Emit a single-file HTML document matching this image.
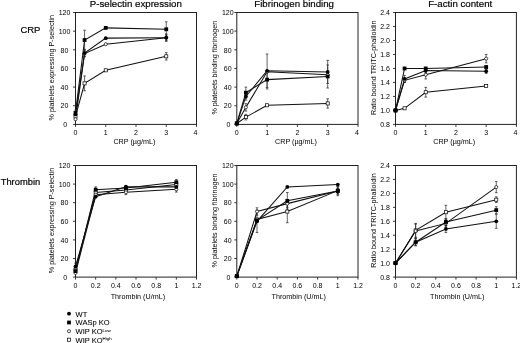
<!DOCTYPE html>
<html><head><meta charset="utf-8"><style>
html,body{margin:0;padding:0;background:#fff;}
svg{display:block;filter:grayscale(1);}
text{font-family:"Liberation Sans", sans-serif;fill:#000;} text.b{stroke:#000;stroke-width:0.18px;} text.m{stroke:#000;stroke-width:0.08px;}
</style></head><body>
<svg width="520" height="343" viewBox="0 0 520 343">
<rect width="520" height="343" fill="#fff"/>
<rect x="75.5" y="12.5" width="121.00" height="111.90" fill="none" stroke="#222" stroke-width="1"/>
<line x1="73.0" y1="124.40" x2="75.5" y2="124.40" stroke="#222" stroke-width="0.9"/>
<text x="65.20" y="127.10" font-size="7" text-anchor="middle" >0</text>
<line x1="73.0" y1="105.75" x2="75.5" y2="105.75" stroke="#222" stroke-width="0.9"/>
<text x="64.50" y="108.45" font-size="7" text-anchor="middle" >20</text>
<line x1="73.0" y1="87.10" x2="75.5" y2="87.10" stroke="#222" stroke-width="0.9"/>
<text x="64.50" y="89.80" font-size="7" text-anchor="middle" >40</text>
<line x1="73.0" y1="68.45" x2="75.5" y2="68.45" stroke="#222" stroke-width="0.9"/>
<text x="64.50" y="71.15" font-size="7" text-anchor="middle" >60</text>
<line x1="73.0" y1="49.80" x2="75.5" y2="49.80" stroke="#222" stroke-width="0.9"/>
<text x="64.50" y="52.50" font-size="7" text-anchor="middle" >80</text>
<line x1="73.0" y1="31.15" x2="75.5" y2="31.15" stroke="#222" stroke-width="0.9"/>
<text x="64.50" y="33.85" font-size="7" text-anchor="middle" >100</text>
<line x1="73.0" y1="12.50" x2="75.5" y2="12.50" stroke="#222" stroke-width="0.9"/>
<text x="64.50" y="15.20" font-size="7" text-anchor="middle" >120</text>
<line x1="75.50" y1="124.4" x2="75.50" y2="126.9" stroke="#222" stroke-width="0.9"/>
<text x="75.50" y="135.00" font-size="7" text-anchor="middle" >0</text>
<line x1="105.75" y1="124.4" x2="105.75" y2="126.9" stroke="#222" stroke-width="0.9"/>
<text x="105.75" y="135.00" font-size="7" text-anchor="middle" >1</text>
<line x1="136.00" y1="124.4" x2="136.00" y2="126.9" stroke="#222" stroke-width="0.9"/>
<text x="136.00" y="135.00" font-size="7" text-anchor="middle" >2</text>
<line x1="166.25" y1="124.4" x2="166.25" y2="126.9" stroke="#222" stroke-width="0.9"/>
<text x="166.25" y="135.00" font-size="7" text-anchor="middle" >3</text>
<line x1="196.50" y1="124.4" x2="196.50" y2="126.9" stroke="#222" stroke-width="0.9"/>
<text x="195.50" y="135.00" font-size="7" text-anchor="middle" >4</text>
<text x="54.1" y="67.65" font-size="7.2" text-anchor="middle" transform="rotate(-90 54.1 67.65)">% platelets expressing P-selectin</text>
<text x="134.40" y="144.10" font-size="7.2" text-anchor="middle" >CRP (µg/mL)</text>
<polyline points="75.50,116.47 84.58,83.37 105.75,70.31 166.25,56.33" fill="none" stroke="#111" stroke-width="1.05"/>
<polyline points="75.50,119.27 84.58,53.53 105.75,44.20 166.25,37.68" fill="none" stroke="#111" stroke-width="1.05"/>
<polyline points="75.50,114.42 84.58,53.06 105.75,38.14 166.25,37.68" fill="none" stroke="#111" stroke-width="1.05"/>
<polyline points="75.50,112.93 84.58,40.01 105.75,27.89 166.25,29.28" fill="none" stroke="#111" stroke-width="1.05"/>
<path d="M84.58 75.91V90.83M83.28 75.91H85.88M83.28 90.83H85.88" stroke="#222" stroke-width="0.7" fill="none"/>
<path d="M166.25 52.60V60.06M164.95 52.60H167.55M164.95 60.06H167.55" stroke="#222" stroke-width="0.7" fill="none"/>
<path d="M84.58 50.73V56.33M83.28 50.73H85.88M83.28 56.33H85.88" stroke="#222" stroke-width="0.7" fill="none"/>
<path d="M166.25 34.88V40.47M164.95 34.88H167.55M164.95 40.47H167.55" stroke="#222" stroke-width="0.7" fill="none"/>
<path d="M84.58 49.33V56.79M83.28 49.33H85.88M83.28 56.79H85.88" stroke="#222" stroke-width="0.7" fill="none"/>
<path d="M166.25 33.95V41.41M164.95 33.95H167.55M164.95 41.41H167.55" stroke="#222" stroke-width="0.7" fill="none"/>
<path d="M75.50 110.13V115.73M74.20 110.13H76.80M74.20 115.73H76.80" stroke="#222" stroke-width="0.7" fill="none"/>
<path d="M84.58 30.22V49.80M83.28 30.22H85.88M83.28 49.80H85.88" stroke="#222" stroke-width="0.7" fill="none"/>
<path d="M166.25 21.83V36.75M164.95 21.83H167.55M164.95 36.75H167.55" stroke="#222" stroke-width="0.7" fill="none"/>
<rect x="73.95" y="114.92" width="3.10" height="3.10" fill="#fff" stroke="#000" stroke-width="0.7"/>
<rect x="83.02" y="81.82" width="3.10" height="3.10" fill="#fff" stroke="#000" stroke-width="0.7"/>
<rect x="104.20" y="68.76" width="3.10" height="3.10" fill="#fff" stroke="#000" stroke-width="0.7"/>
<rect x="164.70" y="54.78" width="3.10" height="3.10" fill="#fff" stroke="#000" stroke-width="0.7"/>
<circle cx="75.50" cy="119.27" r="1.5499999999999998" fill="#fff" stroke="#000" stroke-width="0.7"/>
<circle cx="84.58" cy="53.53" r="1.5499999999999998" fill="#fff" stroke="#000" stroke-width="0.7"/>
<circle cx="105.75" cy="44.20" r="1.5499999999999998" fill="#fff" stroke="#000" stroke-width="0.7"/>
<circle cx="166.25" cy="37.68" r="1.5499999999999998" fill="#fff" stroke="#000" stroke-width="0.7"/>
<circle cx="75.50" cy="114.42" r="1.9" fill="#000"/>
<circle cx="84.58" cy="53.06" r="1.9" fill="#000"/>
<circle cx="105.75" cy="38.14" r="1.9" fill="#000"/>
<circle cx="166.25" cy="37.68" r="1.9" fill="#000"/>
<rect x="73.60" y="111.03" width="3.8" height="3.8" fill="#000"/>
<rect x="82.67" y="38.11" width="3.8" height="3.8" fill="#000"/>
<rect x="103.85" y="25.99" width="3.8" height="3.8" fill="#000"/>
<rect x="164.35" y="27.38" width="3.8" height="3.8" fill="#000"/>
<rect x="236.8" y="12.5" width="121.20" height="111.90" fill="none" stroke="#222" stroke-width="1"/>
<line x1="234.3" y1="124.40" x2="236.8" y2="124.40" stroke="#222" stroke-width="0.9"/>
<text x="228.45" y="127.10" font-size="7" text-anchor="middle" >0</text>
<line x1="234.3" y1="105.75" x2="236.8" y2="105.75" stroke="#222" stroke-width="0.9"/>
<text x="227.75" y="108.45" font-size="7" text-anchor="middle" >20</text>
<line x1="234.3" y1="87.10" x2="236.8" y2="87.10" stroke="#222" stroke-width="0.9"/>
<text x="227.75" y="89.80" font-size="7" text-anchor="middle" >40</text>
<line x1="234.3" y1="68.45" x2="236.8" y2="68.45" stroke="#222" stroke-width="0.9"/>
<text x="227.75" y="71.15" font-size="7" text-anchor="middle" >60</text>
<line x1="234.3" y1="49.80" x2="236.8" y2="49.80" stroke="#222" stroke-width="0.9"/>
<text x="227.75" y="52.50" font-size="7" text-anchor="middle" >80</text>
<line x1="234.3" y1="31.15" x2="236.8" y2="31.15" stroke="#222" stroke-width="0.9"/>
<text x="227.75" y="33.85" font-size="7" text-anchor="middle" >100</text>
<line x1="234.3" y1="12.50" x2="236.8" y2="12.50" stroke="#222" stroke-width="0.9"/>
<text x="227.75" y="15.20" font-size="7" text-anchor="middle" >120</text>
<line x1="236.80" y1="124.4" x2="236.80" y2="126.9" stroke="#222" stroke-width="0.9"/>
<text x="236.80" y="135.00" font-size="7" text-anchor="middle" >0</text>
<line x1="267.10" y1="124.4" x2="267.10" y2="126.9" stroke="#222" stroke-width="0.9"/>
<text x="267.10" y="135.00" font-size="7" text-anchor="middle" >1</text>
<line x1="297.40" y1="124.4" x2="297.40" y2="126.9" stroke="#222" stroke-width="0.9"/>
<text x="297.40" y="135.00" font-size="7" text-anchor="middle" >2</text>
<line x1="327.70" y1="124.4" x2="327.70" y2="126.9" stroke="#222" stroke-width="0.9"/>
<text x="327.70" y="135.00" font-size="7" text-anchor="middle" >3</text>
<line x1="358.00" y1="124.4" x2="358.00" y2="126.9" stroke="#222" stroke-width="0.9"/>
<text x="357.00" y="135.00" font-size="7" text-anchor="middle" >4</text>
<text x="216.9" y="67.65" font-size="7.2" text-anchor="middle" transform="rotate(-90 216.9 67.65)">% platelets binding fibrinogen</text>
<text x="296.00" y="144.10" font-size="7.2" text-anchor="middle" >CRP (µg/mL)</text>
<polyline points="236.80,123.47 245.89,117.13 267.10,105.28 327.70,103.42" fill="none" stroke="#111" stroke-width="1.05"/>
<polyline points="236.80,123.47 245.89,107.34 267.10,71.71 327.70,74.79" fill="none" stroke="#111" stroke-width="1.05"/>
<polyline points="236.80,123.47 245.89,96.43 267.10,70.78 327.70,71.90" fill="none" stroke="#111" stroke-width="1.05"/>
<polyline points="236.80,123.47 245.89,92.70 267.10,79.64 327.70,76.47" fill="none" stroke="#111" stroke-width="1.05"/>
<path d="M245.89 114.33V119.92M244.59 114.33H247.19M244.59 119.92H247.19" stroke="#222" stroke-width="0.7" fill="none"/>
<path d="M327.70 98.76V108.08M326.40 98.76H329.00M326.40 108.08H329.00" stroke="#222" stroke-width="0.7" fill="none"/>
<path d="M245.89 103.61V111.07M244.59 103.61H247.19M244.59 111.07H247.19" stroke="#222" stroke-width="0.7" fill="none"/>
<path d="M327.70 72.93V76.66M326.40 72.93H329.00M326.40 76.66H329.00" stroke="#222" stroke-width="0.7" fill="none"/>
<path d="M245.89 92.70V100.16M244.59 92.70H247.19M244.59 100.16H247.19" stroke="#222" stroke-width="0.7" fill="none"/>
<path d="M267.10 54.00V87.57M265.80 54.00H268.40M265.80 87.57H268.40" stroke="#222" stroke-width="0.7" fill="none"/>
<path d="M327.70 60.34V83.46M326.40 60.34H329.00M326.40 83.46H329.00" stroke="#222" stroke-width="0.7" fill="none"/>
<path d="M245.89 87.10V98.29M244.59 87.10H247.19M244.59 98.29H247.19" stroke="#222" stroke-width="0.7" fill="none"/>
<path d="M267.10 70.31V88.97M265.80 70.31H268.40M265.80 88.97H268.40" stroke="#222" stroke-width="0.7" fill="none"/>
<path d="M327.70 64.91V88.03M326.40 64.91H329.00M326.40 88.03H329.00" stroke="#222" stroke-width="0.7" fill="none"/>
<rect x="235.25" y="121.92" width="3.10" height="3.10" fill="#fff" stroke="#000" stroke-width="0.7"/>
<rect x="244.34" y="115.58" width="3.10" height="3.10" fill="#fff" stroke="#000" stroke-width="0.7"/>
<rect x="265.55" y="103.73" width="3.10" height="3.10" fill="#fff" stroke="#000" stroke-width="0.7"/>
<rect x="326.15" y="101.87" width="3.10" height="3.10" fill="#fff" stroke="#000" stroke-width="0.7"/>
<circle cx="236.80" cy="123.47" r="1.5499999999999998" fill="#fff" stroke="#000" stroke-width="0.7"/>
<circle cx="245.89" cy="107.34" r="1.5499999999999998" fill="#fff" stroke="#000" stroke-width="0.7"/>
<circle cx="267.10" cy="71.71" r="1.5499999999999998" fill="#fff" stroke="#000" stroke-width="0.7"/>
<circle cx="327.70" cy="74.79" r="1.5499999999999998" fill="#fff" stroke="#000" stroke-width="0.7"/>
<circle cx="236.80" cy="123.47" r="1.9" fill="#000"/>
<circle cx="245.89" cy="96.43" r="1.9" fill="#000"/>
<circle cx="267.10" cy="70.78" r="1.9" fill="#000"/>
<circle cx="327.70" cy="71.90" r="1.9" fill="#000"/>
<rect x="234.90" y="121.57" width="3.8" height="3.8" fill="#000"/>
<rect x="243.99" y="90.80" width="3.8" height="3.8" fill="#000"/>
<rect x="265.20" y="77.74" width="3.8" height="3.8" fill="#000"/>
<rect x="325.80" y="74.57" width="3.8" height="3.8" fill="#000"/>
<rect x="395.5" y="12.5" width="120.90" height="111.90" fill="none" stroke="#222" stroke-width="1"/>
<line x1="393.0" y1="124.40" x2="395.5" y2="124.40" stroke="#222" stroke-width="0.9"/>
<text x="385.00" y="127.10" font-size="7" text-anchor="middle" >0.8</text>
<line x1="393.0" y1="110.41" x2="395.5" y2="110.41" stroke="#222" stroke-width="0.9"/>
<text x="385.00" y="113.11" font-size="7" text-anchor="middle" >1.0</text>
<line x1="393.0" y1="96.43" x2="395.5" y2="96.43" stroke="#222" stroke-width="0.9"/>
<text x="385.00" y="99.13" font-size="7" text-anchor="middle" >1.2</text>
<line x1="393.0" y1="82.44" x2="395.5" y2="82.44" stroke="#222" stroke-width="0.9"/>
<text x="385.00" y="85.14" font-size="7" text-anchor="middle" >1.4</text>
<line x1="393.0" y1="68.45" x2="395.5" y2="68.45" stroke="#222" stroke-width="0.9"/>
<text x="385.00" y="71.15" font-size="7" text-anchor="middle" >1.6</text>
<line x1="393.0" y1="54.46" x2="395.5" y2="54.46" stroke="#222" stroke-width="0.9"/>
<text x="385.00" y="57.16" font-size="7" text-anchor="middle" >1.8</text>
<line x1="393.0" y1="40.47" x2="395.5" y2="40.47" stroke="#222" stroke-width="0.9"/>
<text x="385.00" y="43.17" font-size="7" text-anchor="middle" >2.0</text>
<line x1="393.0" y1="26.49" x2="395.5" y2="26.49" stroke="#222" stroke-width="0.9"/>
<text x="385.00" y="29.19" font-size="7" text-anchor="middle" >2.2</text>
<line x1="393.0" y1="12.50" x2="395.5" y2="12.50" stroke="#222" stroke-width="0.9"/>
<text x="385.00" y="15.20" font-size="7" text-anchor="middle" >2.4</text>
<line x1="395.50" y1="124.4" x2="395.50" y2="126.9" stroke="#222" stroke-width="0.9"/>
<text x="395.50" y="135.00" font-size="7" text-anchor="middle" >0</text>
<line x1="425.73" y1="124.4" x2="425.73" y2="126.9" stroke="#222" stroke-width="0.9"/>
<text x="425.73" y="135.00" font-size="7" text-anchor="middle" >1</text>
<line x1="455.95" y1="124.4" x2="455.95" y2="126.9" stroke="#222" stroke-width="0.9"/>
<text x="455.95" y="135.00" font-size="7" text-anchor="middle" >2</text>
<line x1="486.17" y1="124.4" x2="486.17" y2="126.9" stroke="#222" stroke-width="0.9"/>
<text x="486.17" y="135.00" font-size="7" text-anchor="middle" >3</text>
<line x1="516.40" y1="124.4" x2="516.40" y2="126.9" stroke="#222" stroke-width="0.9"/>
<text x="515.40" y="135.00" font-size="7" text-anchor="middle" >4</text>
<text x="375.8" y="67.65" font-size="7.2" text-anchor="middle" transform="rotate(-90 375.8 67.65)">Ratio bound TRITC-phalloidin</text>
<text x="454.20" y="144.10" font-size="7.2" text-anchor="middle" >CRP (µg/mL)</text>
<polyline points="395.50,110.41 404.57,108.31 425.73,92.23 486.17,85.93" fill="none" stroke="#111" stroke-width="1.05"/>
<polyline points="395.50,110.41 404.57,80.34 425.73,74.74 486.17,58.66" fill="none" stroke="#111" stroke-width="1.05"/>
<polyline points="395.50,110.41 404.57,78.94 425.73,70.55 486.17,71.25" fill="none" stroke="#111" stroke-width="1.05"/>
<polyline points="395.50,110.41 404.57,68.45 425.73,68.45 486.17,67.05" fill="none" stroke="#111" stroke-width="1.05"/>
<path d="M425.73 87.33V97.12M424.43 87.33H427.03M424.43 97.12H427.03" stroke="#222" stroke-width="0.7" fill="none"/>
<path d="M404.57 78.24V82.44M403.27 78.24H405.87M403.27 82.44H405.87" stroke="#222" stroke-width="0.7" fill="none"/>
<path d="M425.73 70.55V78.94M424.43 70.55H427.03M424.43 78.94H427.03" stroke="#222" stroke-width="0.7" fill="none"/>
<path d="M486.17 54.46V62.86M484.87 54.46H487.47M484.87 62.86H487.47" stroke="#222" stroke-width="0.7" fill="none"/>
<path d="M404.57 75.44V82.44M403.27 75.44H405.87M403.27 82.44H405.87" stroke="#222" stroke-width="0.7" fill="none"/>
<path d="M425.73 68.45V72.65M424.43 68.45H427.03M424.43 72.65H427.03" stroke="#222" stroke-width="0.7" fill="none"/>
<path d="M486.17 69.15V73.35M484.87 69.15H487.47M484.87 73.35H487.47" stroke="#222" stroke-width="0.7" fill="none"/>
<path d="M486.17 65.65V68.45M484.87 65.65H487.47M484.87 68.45H487.47" stroke="#222" stroke-width="0.7" fill="none"/>
<rect x="393.95" y="108.86" width="3.10" height="3.10" fill="#fff" stroke="#000" stroke-width="0.7"/>
<rect x="403.02" y="106.76" width="3.10" height="3.10" fill="#fff" stroke="#000" stroke-width="0.7"/>
<rect x="424.18" y="90.68" width="3.10" height="3.10" fill="#fff" stroke="#000" stroke-width="0.7"/>
<rect x="484.62" y="84.38" width="3.10" height="3.10" fill="#fff" stroke="#000" stroke-width="0.7"/>
<circle cx="395.50" cy="110.41" r="1.5499999999999998" fill="#fff" stroke="#000" stroke-width="0.7"/>
<circle cx="404.57" cy="80.34" r="1.5499999999999998" fill="#fff" stroke="#000" stroke-width="0.7"/>
<circle cx="425.73" cy="74.74" r="1.5499999999999998" fill="#fff" stroke="#000" stroke-width="0.7"/>
<circle cx="486.17" cy="58.66" r="1.5499999999999998" fill="#fff" stroke="#000" stroke-width="0.7"/>
<circle cx="395.50" cy="110.41" r="1.9" fill="#000"/>
<circle cx="404.57" cy="78.94" r="1.9" fill="#000"/>
<circle cx="425.73" cy="70.55" r="1.9" fill="#000"/>
<circle cx="486.17" cy="71.25" r="1.9" fill="#000"/>
<rect x="393.60" y="108.51" width="3.8" height="3.8" fill="#000"/>
<rect x="402.67" y="66.55" width="3.8" height="3.8" fill="#000"/>
<rect x="423.83" y="66.55" width="3.8" height="3.8" fill="#000"/>
<rect x="484.27" y="65.15" width="3.8" height="3.8" fill="#000"/>
<rect x="75.5" y="165.5" width="121.00" height="111.60" fill="none" stroke="#222" stroke-width="1"/>
<line x1="73.0" y1="277.10" x2="75.5" y2="277.10" stroke="#222" stroke-width="0.9"/>
<text x="65.20" y="279.80" font-size="7" text-anchor="middle" >0</text>
<line x1="73.0" y1="258.50" x2="75.5" y2="258.50" stroke="#222" stroke-width="0.9"/>
<text x="64.50" y="261.20" font-size="7" text-anchor="middle" >20</text>
<line x1="73.0" y1="239.90" x2="75.5" y2="239.90" stroke="#222" stroke-width="0.9"/>
<text x="64.50" y="242.60" font-size="7" text-anchor="middle" >40</text>
<line x1="73.0" y1="221.30" x2="75.5" y2="221.30" stroke="#222" stroke-width="0.9"/>
<text x="64.50" y="224.00" font-size="7" text-anchor="middle" >60</text>
<line x1="73.0" y1="202.70" x2="75.5" y2="202.70" stroke="#222" stroke-width="0.9"/>
<text x="64.50" y="205.40" font-size="7" text-anchor="middle" >80</text>
<line x1="73.0" y1="184.10" x2="75.5" y2="184.10" stroke="#222" stroke-width="0.9"/>
<text x="64.50" y="186.80" font-size="7" text-anchor="middle" >100</text>
<line x1="73.0" y1="165.50" x2="75.5" y2="165.50" stroke="#222" stroke-width="0.9"/>
<text x="64.50" y="168.20" font-size="7" text-anchor="middle" >120</text>
<line x1="75.50" y1="277.1" x2="75.50" y2="279.6" stroke="#222" stroke-width="0.9"/>
<text x="75.50" y="287.70" font-size="7" text-anchor="middle" >0</text>
<line x1="95.67" y1="277.1" x2="95.67" y2="279.6" stroke="#222" stroke-width="0.9"/>
<text x="95.67" y="287.70" font-size="7" text-anchor="middle" >0.2</text>
<line x1="115.83" y1="277.1" x2="115.83" y2="279.6" stroke="#222" stroke-width="0.9"/>
<text x="115.83" y="287.70" font-size="7" text-anchor="middle" >0.4</text>
<line x1="136.00" y1="277.1" x2="136.00" y2="279.6" stroke="#222" stroke-width="0.9"/>
<text x="136.00" y="287.70" font-size="7" text-anchor="middle" >0.6</text>
<line x1="156.17" y1="277.1" x2="156.17" y2="279.6" stroke="#222" stroke-width="0.9"/>
<text x="156.17" y="287.70" font-size="7" text-anchor="middle" >0.8</text>
<line x1="176.33" y1="277.1" x2="176.33" y2="279.6" stroke="#222" stroke-width="0.9"/>
<text x="176.33" y="287.70" font-size="7" text-anchor="middle" >1</text>
<line x1="196.50" y1="277.1" x2="196.50" y2="279.6" stroke="#222" stroke-width="0.9"/>
<text x="196.50" y="287.70" font-size="7" text-anchor="middle" >1.2</text>
<text x="54.1" y="220.50" font-size="7.2" text-anchor="middle" transform="rotate(-90 54.1 220.50)">% platelets expressing P-selectin</text>
<text x="137.90" y="299.20" font-size="7.2" text-anchor="middle" >Thrombin (U/mL)</text>
<polyline points="75.50,269.66 95.67,192.47 125.92,189.96 176.33,184.56" fill="none" stroke="#111" stroke-width="1.05"/>
<polyline points="75.50,272.92 95.67,194.70 125.92,192.28 176.33,189.31" fill="none" stroke="#111" stroke-width="1.05"/>
<polyline points="75.50,271.06 95.67,189.68 125.92,188.01 176.33,182.24" fill="none" stroke="#111" stroke-width="1.05"/>
<polyline points="75.50,266.41 95.67,196.66 125.92,186.70 176.33,186.89" fill="none" stroke="#111" stroke-width="1.05"/>
<path d="M95.67 190.61V194.33M94.37 190.61H96.97M94.37 194.33H96.97" stroke="#222" stroke-width="0.7" fill="none"/>
<path d="M125.92 188.10V191.82M124.62 188.10H127.22M124.62 191.82H127.22" stroke="#222" stroke-width="0.7" fill="none"/>
<path d="M176.33 182.70V186.43M175.03 182.70H177.63M175.03 186.43H177.63" stroke="#222" stroke-width="0.7" fill="none"/>
<path d="M125.92 189.96V194.61M124.62 189.96H127.22M124.62 194.61H127.22" stroke="#222" stroke-width="0.7" fill="none"/>
<path d="M176.33 186.52V192.10M175.03 186.52H177.63M175.03 192.10H177.63" stroke="#222" stroke-width="0.7" fill="none"/>
<path d="M95.67 186.89V192.47M94.37 186.89H96.97M94.37 192.47H96.97" stroke="#222" stroke-width="0.7" fill="none"/>
<path d="M125.92 187.08V188.94M124.62 187.08H127.22M124.62 188.94H127.22" stroke="#222" stroke-width="0.7" fill="none"/>
<path d="M176.33 179.45V185.03M175.03 179.45H177.63M175.03 185.03H177.63" stroke="#222" stroke-width="0.7" fill="none"/>
<path d="M75.50 263.15V269.66M74.20 263.15H76.80M74.20 269.66H76.80" stroke="#222" stroke-width="0.7" fill="none"/>
<path d="M125.92 185.77V187.63M124.62 185.77H127.22M124.62 187.63H127.22" stroke="#222" stroke-width="0.7" fill="none"/>
<path d="M176.33 185.03V188.75M175.03 185.03H177.63M175.03 188.75H177.63" stroke="#222" stroke-width="0.7" fill="none"/>
<rect x="73.95" y="268.11" width="3.10" height="3.10" fill="#fff" stroke="#000" stroke-width="0.7"/>
<rect x="94.12" y="190.92" width="3.10" height="3.10" fill="#fff" stroke="#000" stroke-width="0.7"/>
<rect x="124.37" y="188.41" width="3.10" height="3.10" fill="#fff" stroke="#000" stroke-width="0.7"/>
<rect x="174.78" y="183.01" width="3.10" height="3.10" fill="#fff" stroke="#000" stroke-width="0.7"/>
<circle cx="75.50" cy="272.92" r="1.5499999999999998" fill="#fff" stroke="#000" stroke-width="0.7"/>
<circle cx="95.67" cy="194.70" r="1.5499999999999998" fill="#fff" stroke="#000" stroke-width="0.7"/>
<circle cx="125.92" cy="192.28" r="1.5499999999999998" fill="#fff" stroke="#000" stroke-width="0.7"/>
<circle cx="176.33" cy="189.31" r="1.5499999999999998" fill="#fff" stroke="#000" stroke-width="0.7"/>
<rect x="73.60" y="269.16" width="3.8" height="3.8" fill="#000"/>
<rect x="93.77" y="187.78" width="3.8" height="3.8" fill="#000"/>
<rect x="124.02" y="186.11" width="3.8" height="3.8" fill="#000"/>
<rect x="174.43" y="180.34" width="3.8" height="3.8" fill="#000"/>
<circle cx="75.50" cy="266.41" r="1.9" fill="#000"/>
<circle cx="95.67" cy="196.66" r="1.9" fill="#000"/>
<circle cx="125.92" cy="186.70" r="1.9" fill="#000"/>
<circle cx="176.33" cy="186.89" r="1.9" fill="#000"/>
<rect x="236.8" y="165.5" width="121.20" height="111.60" fill="none" stroke="#222" stroke-width="1"/>
<line x1="234.3" y1="277.10" x2="236.8" y2="277.10" stroke="#222" stroke-width="0.9"/>
<text x="228.45" y="279.80" font-size="7" text-anchor="middle" >0</text>
<line x1="234.3" y1="258.50" x2="236.8" y2="258.50" stroke="#222" stroke-width="0.9"/>
<text x="227.75" y="261.20" font-size="7" text-anchor="middle" >20</text>
<line x1="234.3" y1="239.90" x2="236.8" y2="239.90" stroke="#222" stroke-width="0.9"/>
<text x="227.75" y="242.60" font-size="7" text-anchor="middle" >40</text>
<line x1="234.3" y1="221.30" x2="236.8" y2="221.30" stroke="#222" stroke-width="0.9"/>
<text x="227.75" y="224.00" font-size="7" text-anchor="middle" >60</text>
<line x1="234.3" y1="202.70" x2="236.8" y2="202.70" stroke="#222" stroke-width="0.9"/>
<text x="227.75" y="205.40" font-size="7" text-anchor="middle" >80</text>
<line x1="234.3" y1="184.10" x2="236.8" y2="184.10" stroke="#222" stroke-width="0.9"/>
<text x="227.75" y="186.80" font-size="7" text-anchor="middle" >100</text>
<line x1="234.3" y1="165.50" x2="236.8" y2="165.50" stroke="#222" stroke-width="0.9"/>
<text x="227.75" y="168.20" font-size="7" text-anchor="middle" >120</text>
<line x1="236.80" y1="277.1" x2="236.80" y2="279.6" stroke="#222" stroke-width="0.9"/>
<text x="236.80" y="287.70" font-size="7" text-anchor="middle" >0</text>
<line x1="257.00" y1="277.1" x2="257.00" y2="279.6" stroke="#222" stroke-width="0.9"/>
<text x="257.00" y="287.70" font-size="7" text-anchor="middle" >0.2</text>
<line x1="277.20" y1="277.1" x2="277.20" y2="279.6" stroke="#222" stroke-width="0.9"/>
<text x="277.20" y="287.70" font-size="7" text-anchor="middle" >0.4</text>
<line x1="297.40" y1="277.1" x2="297.40" y2="279.6" stroke="#222" stroke-width="0.9"/>
<text x="297.40" y="287.70" font-size="7" text-anchor="middle" >0.6</text>
<line x1="317.60" y1="277.1" x2="317.60" y2="279.6" stroke="#222" stroke-width="0.9"/>
<text x="317.60" y="287.70" font-size="7" text-anchor="middle" >0.8</text>
<line x1="337.80" y1="277.1" x2="337.80" y2="279.6" stroke="#222" stroke-width="0.9"/>
<text x="337.80" y="287.70" font-size="7" text-anchor="middle" >1</text>
<line x1="358.00" y1="277.1" x2="358.00" y2="279.6" stroke="#222" stroke-width="0.9"/>
<text x="358.00" y="287.70" font-size="7" text-anchor="middle" >1.2</text>
<text x="216.9" y="220.50" font-size="7.2" text-anchor="middle" transform="rotate(-90 216.9 220.50)">% platelets binding fibrinogen</text>
<text x="298.70" y="299.20" font-size="7.2" text-anchor="middle" >Thrombin (U/mL)</text>
<polyline points="236.80,276.17 257.00,219.44 287.30,211.54 337.80,190.61" fill="none" stroke="#111" stroke-width="1.05"/>
<polyline points="236.80,276.17 257.00,211.54 287.30,203.63 337.80,191.07" fill="none" stroke="#111" stroke-width="1.05"/>
<polyline points="236.80,276.17 257.00,221.30 287.30,186.89 337.80,184.56" fill="none" stroke="#111" stroke-width="1.05"/>
<polyline points="236.80,276.17 257.00,220.37 287.30,200.84 337.80,191.07" fill="none" stroke="#111" stroke-width="1.05"/>
<path d="M287.30 200.38V222.70M286.00 200.38H288.60M286.00 222.70H288.60" stroke="#222" stroke-width="0.7" fill="none"/>
<path d="M337.80 186.89V194.33M336.50 186.89H339.10M336.50 194.33H339.10" stroke="#222" stroke-width="0.7" fill="none"/>
<path d="M257.00 207.81V215.25M255.70 207.81H258.30M255.70 215.25H258.30" stroke="#222" stroke-width="0.7" fill="none"/>
<path d="M287.30 199.91V207.35M286.00 199.91H288.60M286.00 207.35H288.60" stroke="#222" stroke-width="0.7" fill="none"/>
<path d="M337.80 188.29V193.87M336.50 188.29H339.10M336.50 193.87H339.10" stroke="#222" stroke-width="0.7" fill="none"/>
<path d="M257.00 210.14V232.46M255.70 210.14H258.30M255.70 232.46H258.30" stroke="#222" stroke-width="0.7" fill="none"/>
<path d="M287.30 192.47V209.21M286.00 192.47H288.60M286.00 209.21H288.60" stroke="#222" stroke-width="0.7" fill="none"/>
<path d="M337.80 186.43V195.73M336.50 186.43H339.10M336.50 195.73H339.10" stroke="#222" stroke-width="0.7" fill="none"/>
<rect x="235.25" y="274.62" width="3.10" height="3.10" fill="#fff" stroke="#000" stroke-width="0.7"/>
<rect x="255.45" y="217.89" width="3.10" height="3.10" fill="#fff" stroke="#000" stroke-width="0.7"/>
<rect x="285.75" y="209.99" width="3.10" height="3.10" fill="#fff" stroke="#000" stroke-width="0.7"/>
<rect x="336.25" y="189.06" width="3.10" height="3.10" fill="#fff" stroke="#000" stroke-width="0.7"/>
<circle cx="236.80" cy="276.17" r="1.5499999999999998" fill="#fff" stroke="#000" stroke-width="0.7"/>
<circle cx="257.00" cy="211.54" r="1.5499999999999998" fill="#fff" stroke="#000" stroke-width="0.7"/>
<circle cx="287.30" cy="203.63" r="1.5499999999999998" fill="#fff" stroke="#000" stroke-width="0.7"/>
<circle cx="337.80" cy="191.07" r="1.5499999999999998" fill="#fff" stroke="#000" stroke-width="0.7"/>
<circle cx="236.80" cy="276.17" r="1.9" fill="#000"/>
<circle cx="257.00" cy="221.30" r="1.9" fill="#000"/>
<circle cx="287.30" cy="186.89" r="1.9" fill="#000"/>
<circle cx="337.80" cy="184.56" r="1.9" fill="#000"/>
<rect x="234.90" y="274.27" width="3.8" height="3.8" fill="#000"/>
<rect x="255.10" y="218.47" width="3.8" height="3.8" fill="#000"/>
<rect x="285.40" y="198.94" width="3.8" height="3.8" fill="#000"/>
<rect x="335.90" y="189.17" width="3.8" height="3.8" fill="#000"/>
<rect x="395.5" y="165.5" width="120.90" height="111.60" fill="none" stroke="#222" stroke-width="1"/>
<line x1="393.0" y1="277.10" x2="395.5" y2="277.10" stroke="#222" stroke-width="0.9"/>
<text x="385.00" y="279.80" font-size="7" text-anchor="middle" >0.8</text>
<line x1="393.0" y1="263.15" x2="395.5" y2="263.15" stroke="#222" stroke-width="0.9"/>
<text x="385.00" y="265.85" font-size="7" text-anchor="middle" >1.0</text>
<line x1="393.0" y1="249.20" x2="395.5" y2="249.20" stroke="#222" stroke-width="0.9"/>
<text x="385.00" y="251.90" font-size="7" text-anchor="middle" >1.2</text>
<line x1="393.0" y1="235.25" x2="395.5" y2="235.25" stroke="#222" stroke-width="0.9"/>
<text x="385.00" y="237.95" font-size="7" text-anchor="middle" >1.4</text>
<line x1="393.0" y1="221.30" x2="395.5" y2="221.30" stroke="#222" stroke-width="0.9"/>
<text x="385.00" y="224.00" font-size="7" text-anchor="middle" >1.6</text>
<line x1="393.0" y1="207.35" x2="395.5" y2="207.35" stroke="#222" stroke-width="0.9"/>
<text x="385.00" y="210.05" font-size="7" text-anchor="middle" >1.8</text>
<line x1="393.0" y1="193.40" x2="395.5" y2="193.40" stroke="#222" stroke-width="0.9"/>
<text x="385.00" y="196.10" font-size="7" text-anchor="middle" >2.0</text>
<line x1="393.0" y1="179.45" x2="395.5" y2="179.45" stroke="#222" stroke-width="0.9"/>
<text x="385.00" y="182.15" font-size="7" text-anchor="middle" >2.2</text>
<line x1="393.0" y1="165.50" x2="395.5" y2="165.50" stroke="#222" stroke-width="0.9"/>
<text x="385.00" y="168.20" font-size="7" text-anchor="middle" >2.4</text>
<line x1="395.50" y1="277.1" x2="395.50" y2="279.6" stroke="#222" stroke-width="0.9"/>
<text x="395.50" y="287.70" font-size="7" text-anchor="middle" >0</text>
<line x1="415.65" y1="277.1" x2="415.65" y2="279.6" stroke="#222" stroke-width="0.9"/>
<text x="415.65" y="287.70" font-size="7" text-anchor="middle" >0.2</text>
<line x1="435.80" y1="277.1" x2="435.80" y2="279.6" stroke="#222" stroke-width="0.9"/>
<text x="435.80" y="287.70" font-size="7" text-anchor="middle" >0.4</text>
<line x1="455.95" y1="277.1" x2="455.95" y2="279.6" stroke="#222" stroke-width="0.9"/>
<text x="455.95" y="287.70" font-size="7" text-anchor="middle" >0.6</text>
<line x1="476.10" y1="277.1" x2="476.10" y2="279.6" stroke="#222" stroke-width="0.9"/>
<text x="476.10" y="287.70" font-size="7" text-anchor="middle" >0.8</text>
<line x1="496.25" y1="277.1" x2="496.25" y2="279.6" stroke="#222" stroke-width="0.9"/>
<text x="496.25" y="287.70" font-size="7" text-anchor="middle" >1</text>
<line x1="516.40" y1="277.1" x2="516.40" y2="279.6" stroke="#222" stroke-width="0.9"/>
<text x="516.40" y="287.70" font-size="7" text-anchor="middle" >1.2</text>
<text x="375.8" y="220.50" font-size="7.2" text-anchor="middle" transform="rotate(-90 375.8 220.50)">Ratio bound TRITC-phalloidin</text>
<text x="457.20" y="299.20" font-size="7.2" text-anchor="middle" >Thrombin (U/mL)</text>
<polyline points="395.50,263.15 415.65,230.37 445.88,212.23 496.25,199.68" fill="none" stroke="#111" stroke-width="1.05"/>
<polyline points="395.50,263.15 415.65,231.07 445.88,223.39 496.25,187.12" fill="none" stroke="#111" stroke-width="1.05"/>
<polyline points="395.50,263.15 415.65,242.23 445.88,228.97 496.25,221.30" fill="none" stroke="#111" stroke-width="1.05"/>
<polyline points="395.50,263.15 415.65,242.23 445.88,222.00 496.25,210.14" fill="none" stroke="#111" stroke-width="1.05"/>
<path d="M415.65 223.39V237.34M414.35 223.39H416.95M414.35 237.34H416.95" stroke="#222" stroke-width="0.7" fill="none"/>
<path d="M445.88 205.26V219.21M444.57 205.26H447.18M444.57 219.21H447.18" stroke="#222" stroke-width="0.7" fill="none"/>
<path d="M496.25 196.89V202.47M494.95 196.89H497.55M494.95 202.47H497.55" stroke="#222" stroke-width="0.7" fill="none"/>
<path d="M415.65 224.09V238.04M414.35 224.09H416.95M414.35 238.04H416.95" stroke="#222" stroke-width="0.7" fill="none"/>
<path d="M445.88 219.91V226.88M444.57 219.91H447.18M444.57 226.88H447.18" stroke="#222" stroke-width="0.7" fill="none"/>
<path d="M496.25 181.54V192.70M494.95 181.54H497.55M494.95 192.70H497.55" stroke="#222" stroke-width="0.7" fill="none"/>
<path d="M415.65 238.74V245.71M414.35 238.74H416.95M414.35 245.71H416.95" stroke="#222" stroke-width="0.7" fill="none"/>
<path d="M445.88 225.49V232.46M444.57 225.49H447.18M444.57 232.46H447.18" stroke="#222" stroke-width="0.7" fill="none"/>
<path d="M496.25 214.32V228.28M494.95 214.32H497.55M494.95 228.28H497.55" stroke="#222" stroke-width="0.7" fill="none"/>
<path d="M415.65 238.74V245.71M414.35 238.74H416.95M414.35 245.71H416.95" stroke="#222" stroke-width="0.7" fill="none"/>
<path d="M445.88 218.51V225.49M444.57 218.51H447.18M444.57 225.49H447.18" stroke="#222" stroke-width="0.7" fill="none"/>
<path d="M496.25 206.65V213.63M494.95 206.65H497.55M494.95 213.63H497.55" stroke="#222" stroke-width="0.7" fill="none"/>
<rect x="393.95" y="261.60" width="3.10" height="3.10" fill="#fff" stroke="#000" stroke-width="0.7"/>
<rect x="414.10" y="228.82" width="3.10" height="3.10" fill="#fff" stroke="#000" stroke-width="0.7"/>
<rect x="444.33" y="210.68" width="3.10" height="3.10" fill="#fff" stroke="#000" stroke-width="0.7"/>
<rect x="494.70" y="198.13" width="3.10" height="3.10" fill="#fff" stroke="#000" stroke-width="0.7"/>
<circle cx="395.50" cy="263.15" r="1.5499999999999998" fill="#fff" stroke="#000" stroke-width="0.7"/>
<circle cx="415.65" cy="231.07" r="1.5499999999999998" fill="#fff" stroke="#000" stroke-width="0.7"/>
<circle cx="445.88" cy="223.39" r="1.5499999999999998" fill="#fff" stroke="#000" stroke-width="0.7"/>
<circle cx="496.25" cy="187.12" r="1.5499999999999998" fill="#fff" stroke="#000" stroke-width="0.7"/>
<circle cx="395.50" cy="263.15" r="1.9" fill="#000"/>
<circle cx="415.65" cy="242.23" r="1.9" fill="#000"/>
<circle cx="445.88" cy="228.97" r="1.9" fill="#000"/>
<circle cx="496.25" cy="221.30" r="1.9" fill="#000"/>
<rect x="393.60" y="261.25" width="3.8" height="3.8" fill="#000"/>
<rect x="413.75" y="240.33" width="3.8" height="3.8" fill="#000"/>
<rect x="443.98" y="220.10" width="3.8" height="3.8" fill="#000"/>
<rect x="494.35" y="208.24" width="3.8" height="3.8" fill="#000"/>
<text class="b" x="89.80" y="6.90" font-size="9.7" text-anchor="start" >P-selectin expression</text>
<text class="b" x="254.30" y="6.90" font-size="9.7" text-anchor="start" >Fibrinogen binding</text>
<text class="b" x="428.20" y="6.90" font-size="9.7" text-anchor="start" >F-actin content</text>
<text class="b" x="20.40" y="32.60" font-size="9.5" text-anchor="start" >CRP</text>
<text class="b" x="0.70" y="184.90" font-size="9.35" text-anchor="start" >Thrombin</text>
<circle cx="69" cy="313.7" r="1.9" fill="#000"/>
<text class="m" x="75.60" y="316.50" font-size="7.5" text-anchor="start" >WT</text>
<rect x="67.1" y="320.6" width="3.8" height="3.8" fill="#000"/>
<text class="m" x="75.60" y="325.30" font-size="7.5" text-anchor="start" >WASp KO</text>
<circle cx="69" cy="331.2" r="1.5499999999999998" fill="#fff" stroke="#000" stroke-width="0.7"/>
<text class="m" x="75.60" y="334.00" font-size="7.5" text-anchor="start" >WIP KO<tspan font-size="4.4" dy="-2.1" style="stroke-width:0.05px">Low</tspan></text>
<rect x="67.44999999999999" y="338.15000000000003" width="3.0999999999999996" height="3.0999999999999996" fill="#fff" stroke="#000" stroke-width="0.7"/>
<text class="m" x="75.60" y="342.50" font-size="7.5" text-anchor="start" >WIP KO<tspan font-size="4.4" dy="-2.1" style="stroke-width:0.05px">High</tspan></text>
</svg>
</body></html>
